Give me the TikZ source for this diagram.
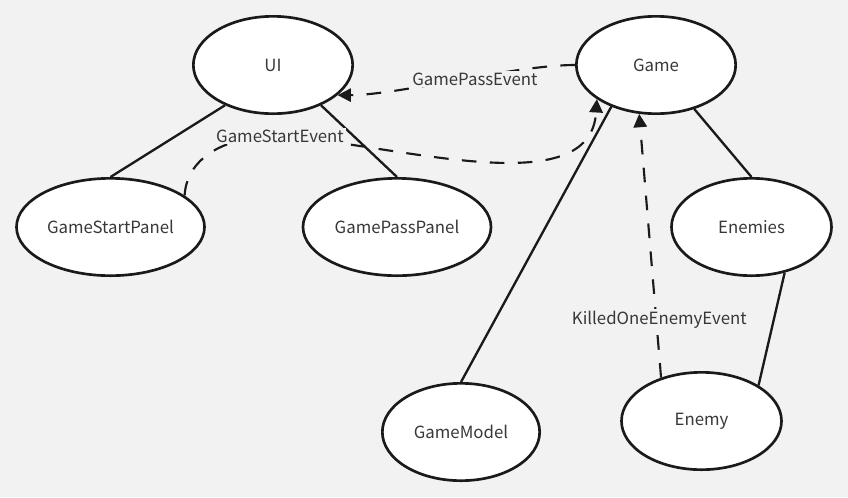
\documentclass[tikz,border=0pt]{standalone}
\usepackage{fontspec}
\setmainfont{Noto Sans CJK SC}
\usepackage{tikz}
\usetikzlibrary{arrows.meta}
\usetikzlibrary{shapes.geometric}
\definecolor{bgc}{HTML}{F2F2F2}
\definecolor{ink}{HTML}{1A1A1A}
\definecolor{txt}{HTML}{383838}
\tikzstyle{obj}=[ellipse,draw=ink,fill=white,line width=2pt,minimum width=119.5pt,minimum height=73pt,inner sep=0pt,text=txt,font=\fontsize{12.6}{15}\selectfont]
\tikzstyle{link} = [draw=ink,line width=1.75pt,-]

\begin{document}
\begin{tikzpicture}
		[x=0.75pt,y=-0.75pt, event/.style = {draw=ink,line width=1.6pt,dash pattern=on 11pt off 10pt,-{Triangle[length=10pt,width=10pt]}}, lbl/.style={fill=bgc,inner sep=1.5pt,text=txt,font=\fontsize{12.6}{15}\selectfont}]
		\fill[bgc] (0,0) rectangle (848,497);
		\node[obj] (ui) at (273,65) {UI};
		\node[obj] (game) at (656,65) {Game};
		\node[obj][minimum width=141pt] (gsp) at (110.5,227) {GameStartPanel};
		\node[obj][minimum width=141pt] (gpp) at (397,227) {GamePassPanel};
		\node[obj][minimum width=120pt] (enemies) at (751.5,227) {Enemies};
		\node[obj][minimum width=118pt] (model) at (461,432) {GameModel};
		\node[obj][minimum width=120pt] (enemy) at (701.5,421) {Enemy};
		\coordinate (gsemid) at (280,136);
		
		\draw[link] (ui.220) -- (gsp.north);
		\draw[link] (ui.-40) -- (gpp.north);
		\draw[link] (game.-49) -- (enemies.north);
		\draw[link] (game.223) -- (model.north);
		\draw[link] (enemies.-54) -- (enemy.32);
		
		\draw[event] (game.west) .. controls +(-60,0) and +(60,0) .. (ui.-25) node[lbl,pos=0.43,yshift=-1.5pt] {GamePassEvent};
		\draw[event] (gsp.23) .. controls +(2,-35) and +(-60,0) .. (gsemid) .. controls +(120,9) and +(-6,105) .. (game.210);
		\node[lbl] at (gsemid) {GameStartEvent};
		\draw[event] (enemy.133) -- (game.-109) node[lbl,pos=0.23,xshift=2.5pt,yshift=-2pt] {KilledOneEnemyEvent};
		
		\end{tikzpicture}
\end{document}
